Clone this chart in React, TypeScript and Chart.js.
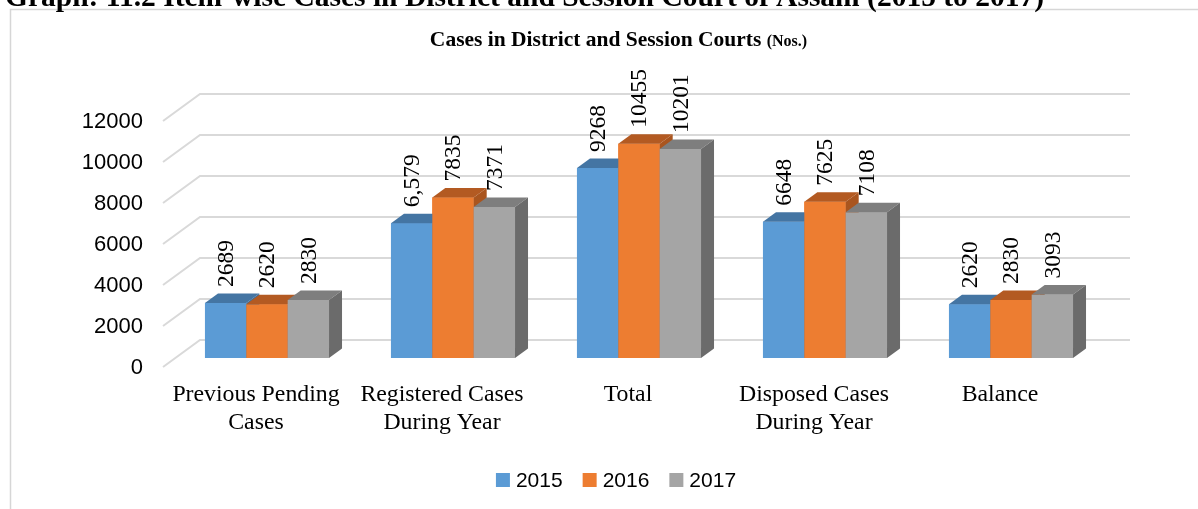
import React, { useEffect, useRef } from "react";
import { Chart, registerables } from "chart.js";

Chart.register(...registerables);

const headerText = "Graph: 11.2 Item-wise Cases in District and Session Court of Assam (2015 to 2017)";
const chartTitle = "Cases in District and Session Courts";
const chartTitleUnit = "(Nos.)";
const categories = [
  ["Previous Pending", "Cases"],
  ["Registered Cases", "During Year"],
  ["Total"],
  ["Disposed Cases", "During Year"],
  ["Balance"],
];
const years = ["2015", "2016", "2017"];
const values2015 = [2689, 6579, 9268, 6648, 2620];
const values2016 = [2620, 7835, 10455, 7625, 2830];
const values2017 = [2830, 7371, 10201, 7108, 3093];
// indexes of values whose label is printed with a thousands separator
const separatedLabels2015 = [1];
const separatedLabels2016: number[] = [];
const separatedLabels2017: number[] = [];
const yTicks = [0, 2000, 4000, 6000, 8000, 10000, 12000];

const frontColors = ["#5B9BD5", "#ED7D31", "#A5A5A5"];
const topColors = ["#4475A3", "#B35A22", "#7E7E7E"];
const sideColors = ["#3F6C96", "#A9551F", "#6B6B6B"];

const FRONT = { dx: -11, dy: 9 };
const BACK = { dx: 26, dy: -18 };
const DEPTH = { dx: 13, dy: -9.5 };

const fmt = (v: number, i: number, sep: number[]) =>
  sep.includes(i) ? v.toLocaleString("en-US") : String(v);

const threeDPlugin = {
  id: "threeD",
  beforeDatasetsDraw(chart: any) {
    const { ctx, chartArea, scales } = chart;
    const y = scales.y;
    ctx.save();
    // chart frame
    ctx.strokeStyle = "#d6d6d6";
    ctx.lineWidth = 1.5;
    ctx.beginPath();
    ctx.moveTo(10.5, chart.height + 5);
    ctx.lineTo(10.5, 9.5);
    ctx.lineTo(chart.width + 5, 9.5);
    ctx.stroke();
    // header (cut off)
    ctx.fillStyle = "#000";
    ctx.font = "bold 29.5px 'Liberation Serif'";
    ctx.textAlign = "left";
    ctx.textBaseline = "alphabetic";
    ctx.fillText(headerText, 5, 6);
    // title
    ctx.font = "bold 21.5px 'Liberation Serif'";
    const w1 = ctx.measureText(chartTitle + " ").width;
    ctx.font = "bold 16px 'Liberation Serif'";
    const w2 = ctx.measureText(chartTitleUnit).width;
    const tx = 618.5 - (w1 + w2) / 2;
    ctx.font = "bold 21.5px 'Liberation Serif'";
    ctx.fillText(chartTitle, tx, 46);
    ctx.font = "bold 16px 'Liberation Serif'";
    ctx.fillText(chartTitleUnit, tx + w1, 46);

    // gridlines on floor + back wall
    ctx.strokeStyle = "#d9d9d9";
    ctx.lineWidth = 2;
    for (const v of yTicks) {
      const py = y.getPixelForValue(v);
      ctx.beginPath();
      ctx.moveTo(chartArea.left + FRONT.dx, py + FRONT.dy);
      ctx.lineTo(chartArea.left + BACK.dx, py + BACK.dy);
      ctx.lineTo(chartArea.right + BACK.dx, py + BACK.dy);
      ctx.stroke();
    }
    // tick labels
    ctx.fillStyle = "#000";
    ctx.font = "22px 'Liberation Sans'";
    ctx.textAlign = "right";
    ctx.textBaseline = "middle";
    for (const v of yTicks) {
      const py = y.getPixelForValue(v);
      ctx.fillText(String(v), chartArea.left - 31, py + FRONT.dy + 1);
    }
    ctx.restore();
  },
  afterDatasetsDraw(chart: any) {
    const { ctx, scales } = chart;
    const xs = scales.x;
    ctx.save();
    // 3D bars: datasets painted in series order so each later bar hides the
    // hidden faces of the one before it
    chart.data.datasets.forEach((_ds: any, i: number) => {
      const meta = chart.getDatasetMeta(i);
      for (const bar of meta.data) {
        const { x, y, base, width } = bar.getProps(["x", "y", "base", "width"], true);
        const x0 = x - width / 2;
        const x1 = x + width / 2;
        ctx.fillStyle = frontColors[i];
        ctx.fillRect(x0, y, width, base - y);
        ctx.fillStyle = topColors[i];
        ctx.beginPath();
        ctx.moveTo(x0, y);
        ctx.lineTo(x1, y);
        ctx.lineTo(x1 + DEPTH.dx, y + DEPTH.dy);
        ctx.lineTo(x0 + DEPTH.dx, y + DEPTH.dy);
        ctx.closePath();
        ctx.fill();
        ctx.fillStyle = sideColors[i];
        ctx.beginPath();
        ctx.moveTo(x1, y);
        ctx.lineTo(x1 + DEPTH.dx, y + DEPTH.dy);
        ctx.lineTo(x1 + DEPTH.dx, base + DEPTH.dy);
        ctx.lineTo(x1, base);
        ctx.closePath();
        ctx.fill();
      }
    });

    ctx.fillStyle = "#000";
    // value labels (rotated)
    ctx.font = "23.5px 'Liberation Serif'";
    ctx.textAlign = "left";
    ctx.textBaseline = "middle";
    chart.data.datasets.forEach((ds: any, di: number) => {
      const meta = chart.getDatasetMeta(di);
      meta.data.forEach((bar: any, j: number) => {
        const { x, y } = bar.getProps(["x", "y"], true);
        ctx.save();
        ctx.translate(x + 1, y - 16);
        ctx.rotate(-Math.PI / 2);
        ctx.fillText(ds.valueLabels[j], 0, 0);
        ctx.restore();
      });
    });
    // category labels
    ctx.font = "23.8px 'Liberation Serif'";
    ctx.textAlign = "center";
    ctx.textBaseline = "middle";
    categories.forEach((lines, j) => {
      const cx = xs.getPixelForValue(j) + FRONT.dx;
      lines.forEach((ln, k) => ctx.fillText(ln, cx, 395 + k * 28));
    });
    // legend
    ctx.font = "21px 'Liberation Sans'";
    ctx.textAlign = "left";
    const box = 14;
    const gap = 6;
    const spacing = 20;
    const widths = years.map((t) => box + gap + ctx.measureText(t).width);
    const total = widths.reduce((a, b) => a + b, 0) + spacing * (years.length - 1);
    let lx = 616 - total / 2;
    const ly = 480;
    years.forEach((t, k) => {
      ctx.fillStyle = frontColors[k];
      ctx.fillRect(lx, ly - box / 2, box, box);
      ctx.fillStyle = "#000";
      ctx.fillText(t, lx + box + gap, ly + 1);
      lx += widths[k] + spacing;
    });
    ctx.restore();
  },
};

export default function App() {
  const ref = useRef<HTMLCanvasElement | null>(null);
  useEffect(() => {
    if (!ref.current) return;
    const chart = new Chart(ref.current, {
      type: "bar",
      data: {
        labels: categories.map((c) => c.join(" ")),
        datasets: [
          {
            label: years[0],
            data: values2015,
            valueLabels: values2015.map((v, i) => fmt(v, i, separatedLabels2015)),
            backgroundColor: frontColors[0],
          },
          {
            label: years[1],
            data: values2016,
            valueLabels: values2016.map((v, i) => fmt(v, i, separatedLabels2016)),
            backgroundColor: frontColors[1],
          },
          {
            label: years[2],
            data: values2017,
            valueLabels: values2017.map((v, i) => fmt(v, i, separatedLabels2017)),
            backgroundColor: frontColors[2],
          },
        ] as any,
      },
      options: {
        animation: false,
        responsive: false,
        devicePixelRatio: 1,
        layout: { padding: { left: 174, right: 94, top: 112, bottom: 151 } },
        datasets: { bar: { categoryPercentage: 0.667, barPercentage: 1.0, borderWidth: 0 } },
        plugins: {
          legend: { display: false },
          title: { display: false },
          tooltip: { enabled: false },
        },
        scales: {
          x: { display: false, offset: true, grid: { display: false } },
          y: { display: false, min: 0, max: 12000 },
        },
      },
      plugins: [threeDPlugin],
    });
    return () => chart.destroy();
  }, []);
  return (
    <div style={{ position: "fixed", left: 0, top: 0, width: 1198, height: 509, background: "#fff" }}>
      <canvas ref={ref} width={1198} height={509} style={{ display: "block", width: 1198, height: 509 }} />
    </div>
  );
}
